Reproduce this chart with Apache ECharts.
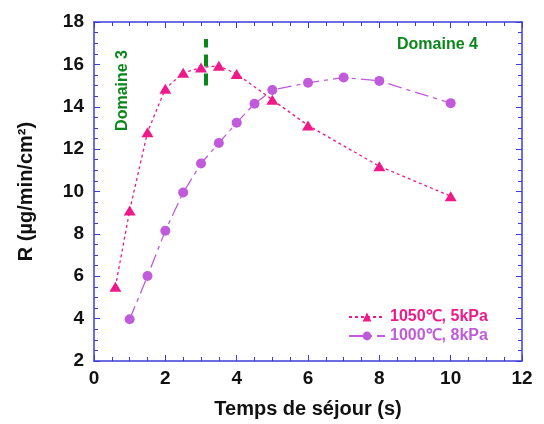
<!DOCTYPE html>
<html><head><meta charset="utf-8">
<script src="https://cdn.jsdelivr.net/npm/echarts@6/dist/echarts.min.js"></script>
<style>html,body{margin:0;padding:0;background:#fff}#c{width:544px;height:424px}</style>
</head><body><div id="c"></div>
<script>
const xTicks = [0, 2, 4, 6, 8, 10, 12];
const yTicks = [2, 4, 6, 8, 10, 12, 14, 16, 18];
const seriesAName = "1050℃, 5kPa";
const seriesAX = [0.6, 1, 1.5, 2, 2.5, 3, 3.5, 4, 5, 6, 8, 10];
const seriesAY = [5.5, 9.1, 12.8, 14.85, 15.6, 15.85, 15.93, 15.55, 14.33, 13.12, 11.19, 9.78];
const seriesBName = "1000℃, 8kPa";
const seriesBX = [1, 1.5, 2, 2.5, 3, 3.5, 4, 4.5, 5, 6, 7, 8, 10];
const seriesBY = [3.97, 6.01, 8.15, 9.95, 11.32, 12.29, 13.25, 14.14, 14.79, 15.13, 15.38, 15.22, 14.17];
const boundaryX = 3.13;
const boundaryY = [15.0, 17.2];
const annotations = ["Domaine 3", "Domaine 4"];

const pink = '#ee1a8a', purple = '#c05bdc', green = '#0b861b', blue = '#3c3cdc';
const font = '"Liberation Sans", Arial, Helvetica, sans-serif';
const chart = echarts.init(document.getElementById('c'), null, {renderer: 'canvas'});

function axisCommon(showLabels, margin) {
  return {
    axisLine: {show: true, onZero: false, lineStyle: {color: blue, width: 1.5}},
    axisTick: {show: true, inside: true, length: 6, lineStyle: {color: blue, width: 1}},
    minorTick: {show: true, splitNumber: 4, length: 4, lineStyle: {color: blue, width: 1}},
    splitLine: {show: false},
    axisLabel: {show: showLabels, color: '#111', fontWeight: 'bold', fontSize: 19, fontFamily: font, margin: margin || 8}
  };
}

const option = {
  animation: false,
  backgroundColor: '#fff',
  grid: {left: 94, top: 22, right: 22, bottom: 62, containLabel: false},
  xAxis: [
    Object.assign({type: 'value', min: xTicks[0], max: xTicks[xTicks.length-1], interval: 2, position: 'bottom',
      name: 'Temps de séjour (s)', nameLocation: 'middle', nameGap: 38,
      nameTextStyle: {color: '#111', fontWeight: 'bold', fontSize: 20, fontFamily: font}}, axisCommon(true, 8)),
    Object.assign({type: 'value', min: xTicks[0], max: xTicks[xTicks.length-1], interval: 2, position: 'top'}, axisCommon(false))
  ],
  yAxis: [
    Object.assign({type: 'value', min: yTicks[0], max: yTicks[yTicks.length-1], interval: 2, position: 'left',
      name: 'R (µg/min/cm²)', nameLocation: 'middle', nameGap: 58, nameRotate: 90,
      nameTextStyle: {color: '#111', fontWeight: 'bold', fontSize: 20, fontFamily: font}}, axisCommon(true, 10)),
    Object.assign({type: 'value', min: yTicks[0], max: yTicks[yTicks.length-1], interval: 2, position: 'right'}, axisCommon(false))
  ],
  legend: {
    orient: 'vertical', left: 343, top: 304, itemWidth: 36, itemHeight: 11, itemGap: 3,
    data: [
      {name: seriesAName, textStyle: {color: pink}},
      {name: seriesBName, textStyle: {color: purple}}
    ],
    textStyle: {fontWeight: 'bold', fontSize: 16, fontFamily: font}
  },
  graphic: [
    {type: 'text', left: 115, top: 50, rotation: Math.PI/2, originX: 0, originY: 0,
      style: {text: annotations[0], fill: green, font: 'bold 16px ' + font}},
    {type: 'text', left: 397, top: 37,
      style: {text: annotations[1], fill: green, font: 'bold 16px ' + font}}
  ],
  series: [
    {
      name: seriesAName, type: 'line', xAxisIndex: 0, yAxisIndex: 0,
      data: seriesAX.map((x, i) => [x, seriesAY[i]]),
      symbol: 'triangle', symbolSize: [12, 10],
      lineStyle: {color: pink, width: 1.3, type: [3, 3]},
      itemStyle: {color: pink},
      markLine: {
        silent: true, symbol: 'none', label: {show: false},
        lineStyle: {color: green, width: 4, type: [12, 7]},
        data: [[{coord: [boundaryX, boundaryY[0]]}, {coord: [boundaryX, boundaryY[1]]}]]
      },
      z: 3
    },
    {
      name: seriesBName, type: 'line', xAxisIndex: 0, yAxisIndex: 0,
      data: seriesBX.map((x, i) => [x, seriesBY[i]]),
      symbol: 'circle', symbolSize: 10,
      lineStyle: {color: purple, width: 1.3, type: [14, 5, 4, 5]},
      itemStyle: {color: purple},
      z: 2
    }
  ]
};
chart.setOption(option);
</script></body></html>
